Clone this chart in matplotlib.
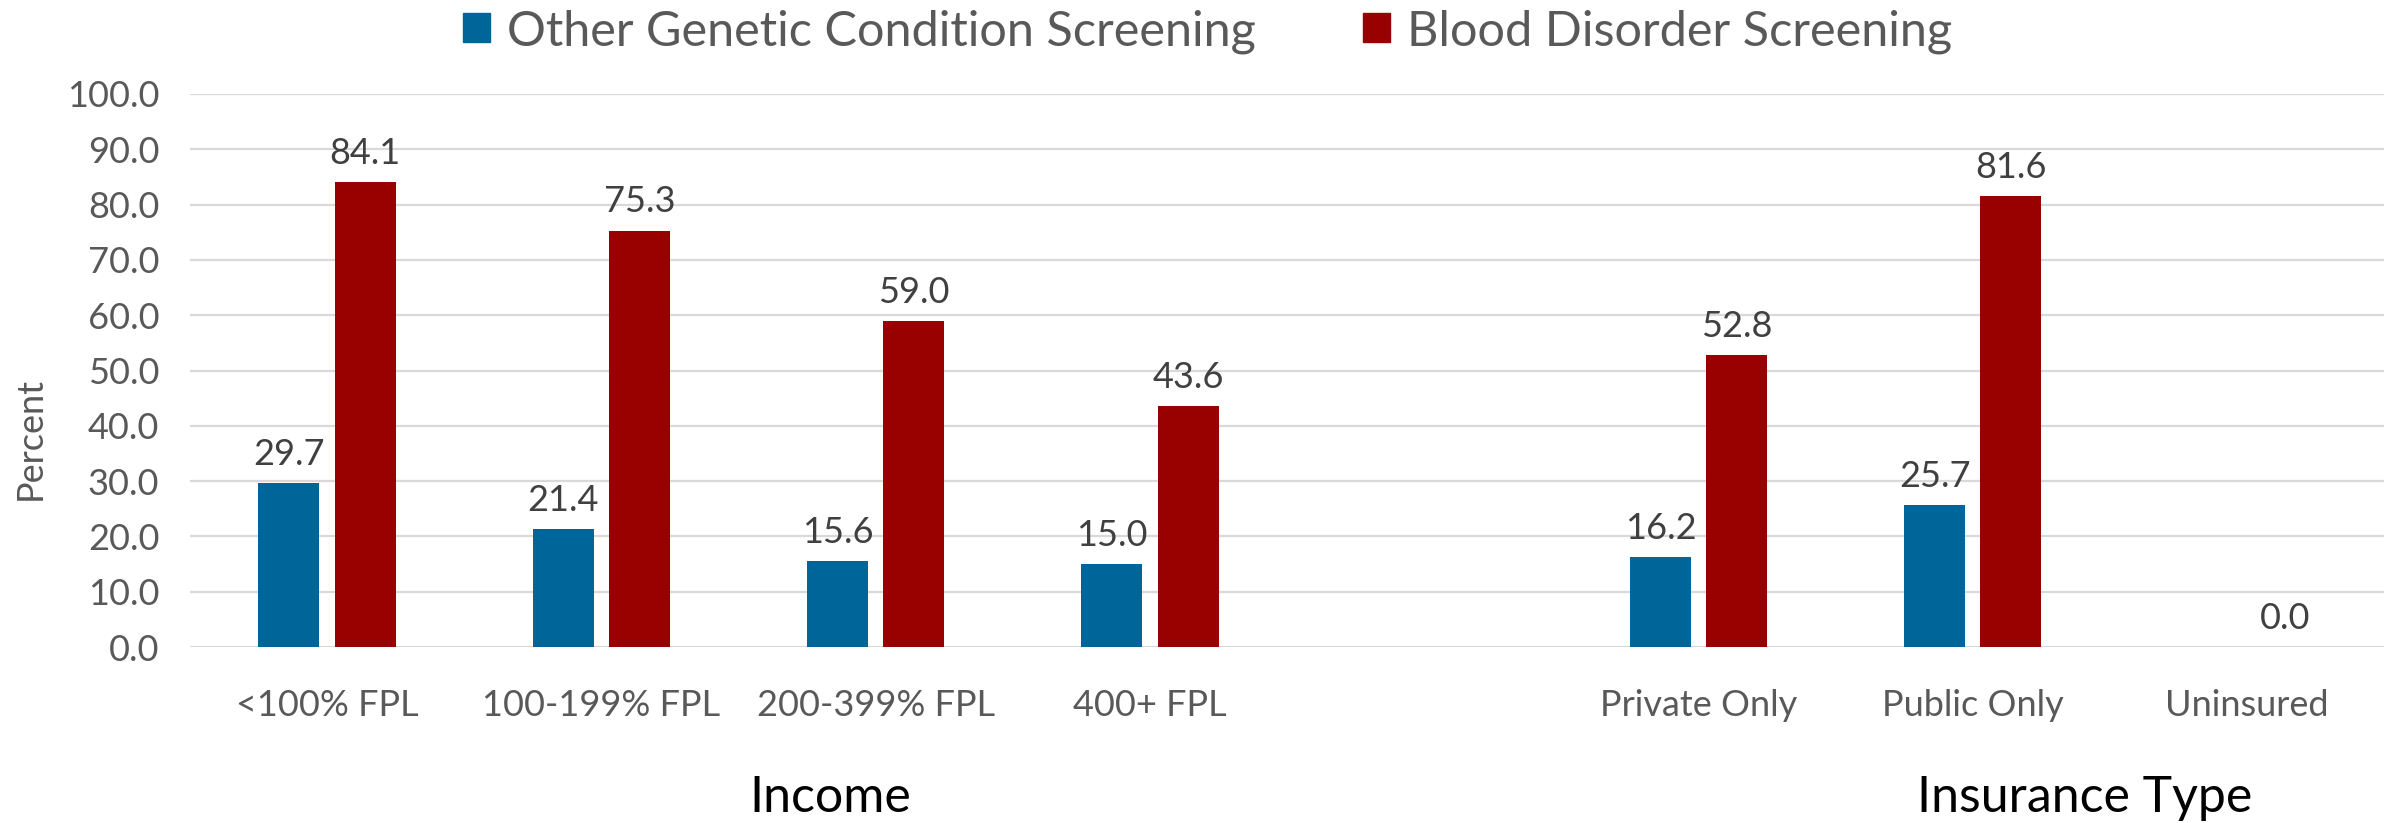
import numpy as np
import matplotlib.pyplot as plt
from matplotlib.patches import Patch

categories = ["<100% FPL", "100-199% FPL", "200-399% FPL", "400+ FPL", "",
              "Private Only", "Public Only", "Uninsured"]
other_genetic = [29.7, 21.4, 15.6, 15.0, np.nan, 16.2, 25.7, np.nan]
blood_disorder = [84.1, 75.3, 59.0, 43.6, np.nan, 52.8, 81.6, 0.0]
groups = ["Income", "Insurance Type"]

blue = "#00669A"
red = "#990000"

plt.rcParams['font.family'] = ['Lato', 'DejaVu Sans']

fig = plt.figure(figsize=(23.89, 8.23), dpi=100)
ax = fig.add_axes([0.0795, 0.2138, 0.9185, 0.672])

x = np.arange(len(categories))
w = 0.222
off = 0.139
b1 = ax.bar(x - off, other_genetic, width=w, color=blue, zorder=3)
b2 = ax.bar(x + off, blood_disorder, width=w, color=red, zorder=3)

# 数据标签
for bars, vals in ((b1, other_genetic), (b2, blood_disorder)):
    for rect, v in zip(bars, vals):
        if np.isnan(v):
            continue
        ax.text(rect.get_x() + rect.get_width() / 2, v + 2.2, f"{v:.1f}",
                ha='center', va='bottom', fontsize=26, color='#404040')

ax.set_xlim(-0.5, len(categories) - 0.5)
ax.set_ylim(0, 100)
ax.set_yticks(np.arange(0, 101, 10))
ax.set_yticklabels([f"{v:.1f}" for v in np.arange(0, 101, 10)])
ax.set_xticks(x)
ax.set_xticklabels(categories)
ax.tick_params(axis='both', length=0, labelsize=26, colors='#595959')
ax.tick_params(axis='x', pad=30)
ax.tick_params(axis='y', pad=22)
ax.grid(axis='y', color='#D9D9D9', linewidth=1.6, zorder=0)
for s in ax.spines.values():
    s.set_visible(False)

fig.text(0.0126, 0.467, "Percent", rotation=90, ha='center', va='center',
         fontsize=26, color='#595959')
fig.text(0.3476, 0.03, groups[0], ha='center', va='center', fontsize=36, color='black')
fig.text(0.8724, 0.03, groups[1], ha='center', va='center', fontsize=36, color='black')

handles = [Patch(color=blue), Patch(color=red)]
fig.legend(handles, ["Other Genetic Condition Screening", "Blood Disorder Screening"],
           loc='center', bbox_to_anchor=(0.5055, 0.962), ncol=2, frameon=False,
           fontsize=35, handlelength=0.55, handleheight=0.55, handletextpad=0.35,
           columnspacing=2.2, labelcolor='#595959')

fig.savefig("out.png", dpi=100)
